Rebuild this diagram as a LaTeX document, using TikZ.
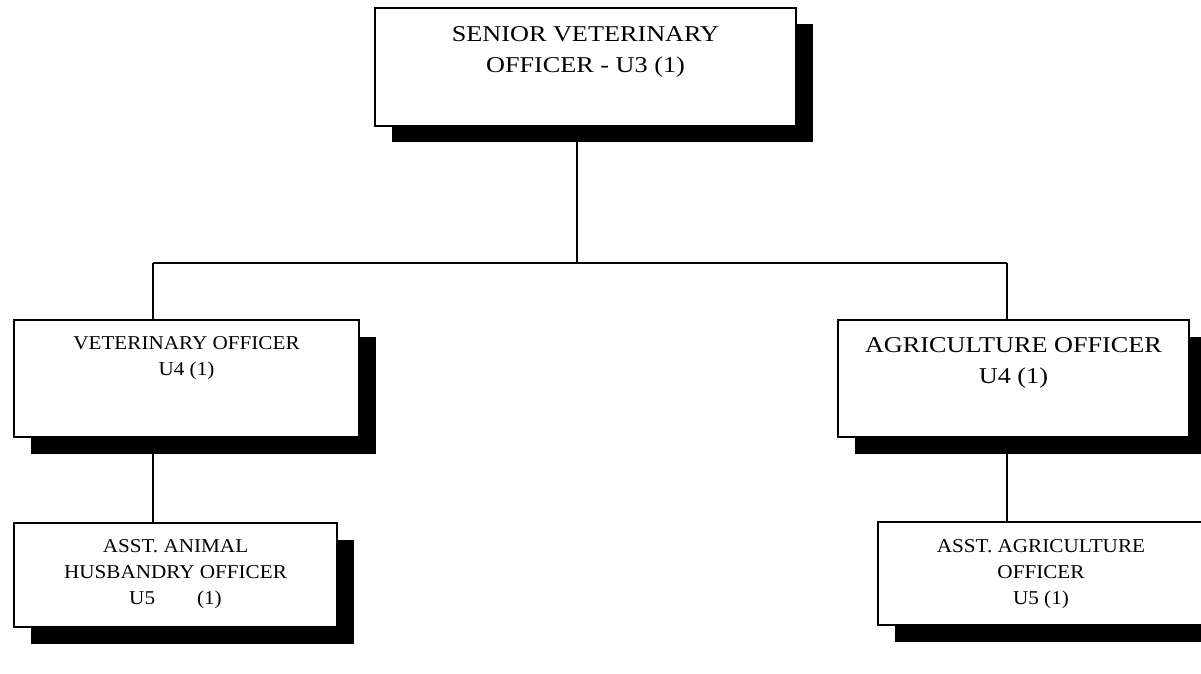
\documentclass[tikz,border=0pt]{standalone}
\usepackage{fontspec}
\setmainfont{Liberation Serif}
\newfontfamily\bigfont[FakeStretch=1.16]{Liberation Serif}
\newfontfamily\smallfont[FakeStretch=1.08]{Liberation Serif}
\usetikzlibrary{positioning,shadows}

\begin{document}
\begin{tikzpicture}[x=0.5pt,y=-0.5pt,
  post/.style={draw=black,line width=0.7pt,fill=white,drop shadow={shadow xshift=8.25pt,shadow yshift=-8.25pt,fill=black,opacity=1}},
  big/.style={inner sep=0pt,align=center,font=\bigfont\fontsize{11.3}{15.5}\selectfont},
  small/.style={inner sep=0pt,align=center,font=\smallfont\fontsize{9.8}{13}\selectfont},
  link/.style={line width=0.9pt}]
\useasboundingbox (0,0) rectangle (1201,674);
\coordinate (hub) at (577,263);
\coordinate (busL) at (153,263);
\coordinate (busR) at (1007,263);
\draw[link] (hub) -- ++(0,-130);
\draw[link] (busL) -- (busR);
\node[post,minimum width=210.5pt,minimum height=59pt] (svo) at (585.5,67) {};
\node[post,minimum width=172.5pt,minimum height=58.5pt] (vo) at (186.5,378.5) {};
\node[post,minimum width=175.5pt,minimum height=58.5pt] (ao) at (1013.5,378.5) {};
\node[post,minimum width=161.5pt,minimum height=52pt] (aaho) at (175.5,575) {};
\node[post,minimum width=163pt,minimum height=51.5pt] (aao) at (1041,573.5) {};
\node[big,below=9.3pt of svo.north] (svo-t) {SENIOR VETERINARY\\OFFICER - U3 (1)};
\node[small,below=8.5pt of vo.north] (vo-t) {VETERINARY OFFICER\\U4 (1)};
\node[big,below=9pt of ao.north] (ao-t) {AGRICULTURE OFFICER\\U4 (1)};
\node[small,below=8.5pt of aaho.north] (aaho-t) {ASST. ANIMAL\\HUSBANDRY OFFICER\\U5\hspace{21pt}(1)};
\node[small,below=9pt of aao.north] (aao-t) {ASST. AGRICULTURE\\OFFICER\\U5 (1)};
\draw[link] ([yshift=-8.25pt]svo.south -| hub) -- (hub);
\draw[link] (busL) -- (busL |- vo.north);
\draw[link] (busR) -- (busR |- ao.north);
\draw[link] ([yshift=-8.25pt]vo.south -| busL) -- (busL |- aaho.north);
\draw[link] ([yshift=-8.25pt]ao.south -| busR) -- (busR |- aao.north);
\end{tikzpicture}
\end{document}
